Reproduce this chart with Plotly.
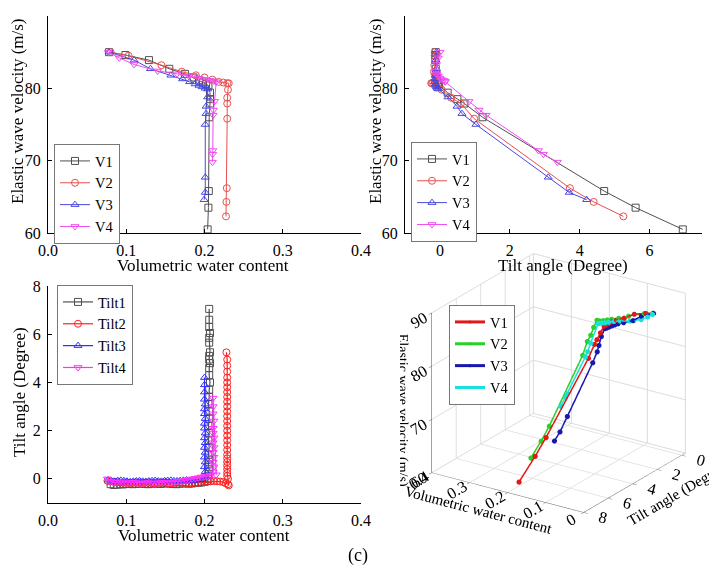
import plotly.graph_objects as go

# velocity series (shared by the V-panels and the 3D panel)
v_names = ["V1", "V2", "V3", "V4"]

vwc_v1 = [0.078, 0.099, 0.129, 0.155, 0.175, 0.186, 0.193, 0.198, 0.202, 0.205, 0.207, 0.207, 0.207, 0.206, 0.2055, 0.205, 0.204]
tilt_v1 = [-0.12, -0.14, -0.13, -0.12, -0.1, -0.1, -0.08, -0.06, -0.04, -0.02, 0.22, 0.5, 0.7, 1.22, 4.7, 5.6, 6.95]
vel_v1 = [85.0, 84.6, 83.9, 82.7, 82.0, 81.5, 81.1, 80.8, 80.6, 80.4, 79.4, 78.5, 77.9, 76.0, 65.8, 63.5, 60.5]

vwc_v2 = [0.080, 0.103, 0.145, 0.171, 0.189, 0.200, 0.210, 0.218, 0.224, 0.229, 0.231, 0.230, 0.229, 0.229, 0.229, 0.2285, 0.228, 0.2275]
tilt_v2 = [-0.15, -0.15, -0.16, -0.17, -0.15, -0.13, -0.12, -0.15, -0.2, -0.23, -0.25, 0.05, 0.32, 0.6, 0.98, 3.72, 4.4, 5.25]
vel_v2 = [85.0, 84.5, 83.2, 82.3, 81.8, 81.5, 81.2, 80.9, 80.8, 80.7, 80.7, 79.8, 78.7, 77.9, 75.8, 66.2, 64.3, 62.3]

vwc_v3 = [0.078, 0.110, 0.131, 0.157, 0.172, 0.181, 0.188, 0.193, 0.197, 0.201, 0.204, 0.204, 0.202, 0.202, 0.201, 0.201, 0.201, 0.1995]
tilt_v3 = [-0.1, -0.12, -0.1, -0.12, -0.14, -0.15, -0.13, -0.12, -0.1, -0.08, -0.05, 0.23, 0.49, 0.63, 1.03, 3.1, 3.7, 4.2]
vel_v3 = [85.0, 83.9, 82.7, 81.8, 81.3, 80.9, 80.6, 80.4, 80.2, 80.0, 79.9, 78.8, 77.5, 76.5, 75.0, 67.7, 65.6, 64.6]

vwc_v4 = [0.077, 0.091, 0.110, 0.140, 0.165, 0.180, 0.192, 0.200, 0.207, 0.212, 0.215, 0.2128, 0.2115, 0.211, 0.2106, 0.2104, 0.210]
tilt_v4 = [0.0, -0.05, -0.1, -0.12, -0.1, -0.05, 0.0, 0.05, 0.1, 0.15, 0.15, 0.83, 1.12, 1.32, 2.82, 2.96, 3.36]
vel_v4 = [85.0, 84.2, 83.3, 82.4, 82.0, 81.7, 81.4, 81.2, 81.1, 81.0, 80.9, 78.2, 77.0, 76.3, 71.4, 70.9, 69.8]

# dense tilt vs water content records
t_names = ["Tilt1", "Tilt2", "Tilt3", "Tilt4"]

vwc_t1 = [0.080, 0.084, 0.088, 0.092, 0.096, 0.100, 0.104, 0.108, 0.112, 0.116, 0.120, 0.124, 0.128, 0.132, 0.136,
          0.140, 0.144, 0.148, 0.152, 0.156, 0.160, 0.164, 0.168, 0.172, 0.176, 0.180, 0.184, 0.188, 0.192, 0.196,
          0.200, 0.203, 0.205, 0.205, 0.206, 0.205, 0.206, 0.205, 0.206, 0.205, 0.206, 0.205, 0.206, 0.206, 0.205,
          0.206, 0.206, 0.207, 0.206, 0.206, 0.207, 0.206, 0.206, 0.207, 0.206, 0.206, 0.207, 0.206, 0.206, 0.206]
tilt_t1 = [-0.22, -0.25, -0.24, -0.22, -0.23, -0.21, -0.2, -0.22, -0.21, -0.2, -0.19, -0.21, -0.22, -0.2, -0.19,
           -0.2, -0.21, -0.19, -0.18, -0.2, -0.21, -0.22, -0.2, -0.19, -0.18, -0.2, -0.19, -0.17, -0.16, -0.15,
           -0.12, -0.08, 0.0, 0.2, 0.4, 0.6, 0.8, 1.0, 1.3, 1.6, 1.9, 2.2, 2.5, 2.8, 3.1,
           3.4, 3.7, 4.0, 4.3, 4.6, 4.8, 4.95, 5.1, 5.25, 5.65, 5.85, 6.05, 6.3, 6.6, 7.05]

vwc_t2 = [0.076, 0.080, 0.084, 0.088, 0.092, 0.096, 0.100, 0.104, 0.108, 0.112, 0.116, 0.120, 0.124, 0.128, 0.132,
          0.136, 0.140, 0.144, 0.148, 0.152, 0.156, 0.160, 0.164, 0.168, 0.172, 0.176, 0.180, 0.184, 0.188, 0.192,
          0.196, 0.200, 0.204, 0.208, 0.212, 0.216, 0.220, 0.224, 0.227, 0.230, 0.231, 0.230, 0.229, 0.229, 0.229,
          0.229, 0.229, 0.229, 0.229, 0.229, 0.229, 0.229, 0.229, 0.229, 0.229, 0.229, 0.229, 0.229, 0.229, 0.229,
          0.229, 0.229, 0.229, 0.229, 0.229, 0.229, 0.229, 0.229, 0.228]
tilt_t2 = [-0.08, -0.1, -0.12, -0.14, -0.15, -0.16, -0.15, -0.17, -0.16, -0.15, -0.16, -0.17, -0.16, -0.15, -0.17,
           -0.18, -0.17, -0.16, -0.15, -0.17, -0.18, -0.17, -0.16, -0.15, -0.16, -0.17, -0.18, -0.17, -0.16, -0.15,
           -0.14, -0.13, -0.12, -0.1, -0.09, -0.1, -0.11, -0.13, -0.18, -0.22, -0.27, 0.0, 0.12, 0.25, 0.4,
           0.55, 0.7, 0.85, 1.0, 1.2, 1.4, 1.6, 1.8, 2.0, 2.2, 2.4, 2.6, 2.8, 3.0, 3.2,
           3.4, 3.6, 3.8, 4.0, 4.2, 4.45, 4.7, 4.95, 5.25]

vwc_t3 = [0.077, 0.081, 0.085, 0.089, 0.093, 0.097, 0.101, 0.105, 0.109, 0.113, 0.117, 0.121, 0.125, 0.129, 0.133,
          0.137, 0.141, 0.145, 0.149, 0.153, 0.157, 0.161, 0.165, 0.169, 0.173, 0.177, 0.181, 0.185, 0.189, 0.193,
          0.197, 0.200, 0.201, 0.200, 0.201, 0.200, 0.201, 0.200, 0.201, 0.200, 0.201, 0.200, 0.200, 0.201, 0.200,
          0.200, 0.201, 0.200, 0.200, 0.200, 0.200]
tilt_t3 = [-0.05, -0.08, -0.1, -0.07, -0.06, -0.08, -0.1, -0.12, -0.1, -0.09, -0.08, -0.1, -0.11, -0.09, -0.08,
           -0.07, -0.09, -0.1, -0.08, -0.07, -0.06, -0.08, -0.09, -0.07, -0.06, -0.05, -0.07, -0.06, -0.05, -0.04,
           -0.03, 0.1, 0.3, 0.5, 0.7, 0.9, 1.1, 1.3, 1.5, 1.7, 1.9, 2.1, 2.3, 2.5, 2.7,
           2.9, 3.1, 3.3, 3.6, 3.9, 4.2]

vwc_t4 = [0.076, 0.080, 0.084, 0.088, 0.092, 0.096, 0.100, 0.104, 0.108, 0.112, 0.116, 0.120, 0.124, 0.128, 0.132,
          0.136, 0.140, 0.144, 0.148, 0.152, 0.156, 0.160, 0.164, 0.168, 0.172, 0.176, 0.180, 0.184, 0.188, 0.192,
          0.196, 0.200, 0.204, 0.208, 0.211, 0.212, 0.211, 0.212, 0.211, 0.212, 0.211, 0.212, 0.211, 0.211, 0.212,
          0.211, 0.211, 0.211, 0.215]
tilt_t4 = [0.0, -0.1, -0.15, -0.14, -0.12, -0.15, -0.17, -0.16, -0.14, -0.15, -0.17, -0.18, -0.16, -0.15, -0.17,
           -0.18, -0.16, -0.15, -0.14, -0.16, -0.15, -0.13, -0.12, -0.1, -0.08, -0.06, -0.04, 0.0, 0.02, 0.05,
           0.08, 0.1, 0.12, 0.15, 0.3, 0.5, 0.7, 0.9, 1.1, 1.3, 1.5, 1.7, 1.9, 2.1, 2.4,
           2.7, 3.0, 3.35, 0.17]

FONT = "Liberation Serif"
flat_colors = ["#505050", "#e8504f", "#4848e0", "#f04cf0"]
t_colors = ["#505050", "#ff2020", "#3030ff", "#ff30ff"]
symbols = ["square-open", "circle-open", "triangle-up-open", "triangle-down-open"]
colors3d = ["#e01818", "#28d028", "#1818b0", "#18e0e0"]

vwc_v = [vwc_v1, vwc_v2, vwc_v3, vwc_v4]
tilt_v = [tilt_v1, tilt_v2, tilt_v3, tilt_v4]
vel_v = [vel_v1, vel_v2, vel_v3, vel_v4]
vwc_t = [vwc_t1, vwc_t2, vwc_t3, vwc_t4]
tilt_t = [tilt_t1, tilt_t2, tilt_t3, tilt_t4]

# the page body has an 8px margin, so the figure is drawn 8px in
W, H = 709, 577


def px(x):
    return (x - 8) / W


def py(y):
    return 1 - (y - 8) / H


fig = go.Figure()

for i in range(4):
    fig.add_trace(go.Scatter(
        x=vwc_v[i], y=vel_v[i], mode="lines+markers", name=v_names[i],
        line=dict(color=flat_colors[i], width=1),
        marker=dict(symbol=symbols[i], size=7, color=flat_colors[i], line=dict(width=1)),
        xaxis="x", yaxis="y", legend="legend"))
for i in range(4):
    fig.add_trace(go.Scatter(
        x=tilt_v[i], y=vel_v[i], mode="lines+markers", name=v_names[i],
        line=dict(color=flat_colors[i], width=1),
        marker=dict(symbol=symbols[i], size=7, color=flat_colors[i], line=dict(width=1)),
        xaxis="x2", yaxis="y2", legend="legend2"))
for i in range(4):
    fig.add_trace(go.Scatter(
        x=vwc_t[i], y=tilt_t[i], mode="lines+markers", name=t_names[i],
        line=dict(color=t_colors[i], width=1.2),
        marker=dict(symbol=symbols[i], size=7, color=t_colors[i], line=dict(width=1)),
        xaxis="x3", yaxis="y3", legend="legend3"))
for i in range(4):
    fig.add_trace(go.Scatter3d(
        x=vwc_v[i], y=tilt_v[i], z=vel_v[i], mode="lines+markers", name=v_names[i],
        line=dict(color=colors3d[i], width=3),
        marker=dict(size=3, color=colors3d[i]),
        scene="scene", legend="legend4"))

ax = dict(showline=True, linecolor="black", linewidth=1, ticks="inside", ticklen=4,
          tickcolor="black", showgrid=False, zeroline=False, mirror=False, automargin=False,
          ticklabelstandoff=3, tickfont=dict(family=FONT, size=16, color="black"))
title_font = dict(family=FONT, size=17, color="black")

leg = dict(xanchor="left", yanchor="top", bgcolor="white", bordercolor="#777",
           borderwidth=1, font=dict(family=FONT, size=14.5, color="black"),
           tracegroupgap=0, itemwidth=30)

scene_axis = dict(showbackground=False, gridcolor="#dcdcdc", showline=True,
                  linecolor="#555", ticks="outside", tickcolor="#555",
                  tickfont=dict(family=FONT, size=14, color="black"),
                  zeroline=False, showspikes=False)

titles = [
    ("Volumetric water content", 203, 265, 0),
    ("Tilt angle (Degree)", 563, 265, 0),
    ("Volumetric water content", 204, 535, 0),
    ("Elastic wave velocity (m/s)", 17, 111, -90),
    ("Elastic wave velocity (m/s)", 375, 111, -90),
    ("Tilt angle (Degree)", 19, 392, -90),
]
annotations = [dict(text=t, x=px(x), y=py(y), xref="paper", yref="paper", showarrow=False,
                    textangle=a, xanchor="center", yanchor="middle", font=title_font)
               for t, x, y, a in titles]
annotations.append(dict(text="(c)", x=px(358), y=py(568), xref="paper", yref="paper",
                        showarrow=False, font=dict(family=FONT, size=18, color="black")))

fig.update_layout(
    width=W, height=H,
    margin=dict(l=0, r=0, t=0, b=0, autoexpand=False),
    paper_bgcolor="white", plot_bgcolor="white",
    font=dict(family=FONT, color="black"),
    xaxis=dict(ax, domain=[px(48), px(361)], range=[0, 0.4], dtick=0.1, tickformat=".1f", anchor="y"),
    yaxis=dict(ax, domain=[py(233), py(16)], range=[60, 90], dtick=10, anchor="x"),
    xaxis2=dict(ax, domain=[px(405), px(702)], range=[-1, 7.5], dtick=2, anchor="y2"),
    yaxis2=dict(ax, domain=[py(233), py(16)], range=[60, 90], dtick=10, anchor="x2"),
    xaxis3=dict(ax, domain=[px(48), px(361)], range=[0, 0.4], dtick=0.1, tickformat=".1f", anchor="y3"),
    yaxis3=dict(ax, domain=[py(503), py(286)], range=[-1, 8], dtick=2, anchor="x3"),
    legend=dict(leg, x=px(54), y=py(144)),
    legend2=dict(leg, x=px(411), y=py(142)),
    legend3=dict(leg, x=px(57), y=py(285)),
    legend4=dict(leg, x=px(449), y=py(305)),
    scene=dict(
        domain=dict(x=[px(400), 1.0], y=[py(538), py(228)]),
        xaxis=dict(scene_axis, range=[0, 0.4], dtick=0.1,
                   title=dict(text="Volumetric water content", font=dict(family=FONT, size=15))),
        yaxis=dict(scene_axis, range=[-0.3, 8], tickvals=[0, 2, 4, 6, 8],
                   title=dict(text="Tilt angle (Degree)", font=dict(family=FONT, size=15))),
        zaxis=dict(scene_axis, range=[60, 90], dtick=10,
                   title=dict(text="Elastic wave velocity (m/s)", font=dict(family=FONT, size=14))),
        aspectmode="manual", aspectratio=dict(x=1.18, y=1.18, z=1.12),
        camera=dict(eye=dict(x=-0.93, y=1.39, z=0.71), center=dict(x=0, y=0, z=0),
                    up=dict(x=0, y=0, z=1), projection=dict(type="orthographic")),
    ),
    annotations=annotations,
)

fig.write_html("out.html")
